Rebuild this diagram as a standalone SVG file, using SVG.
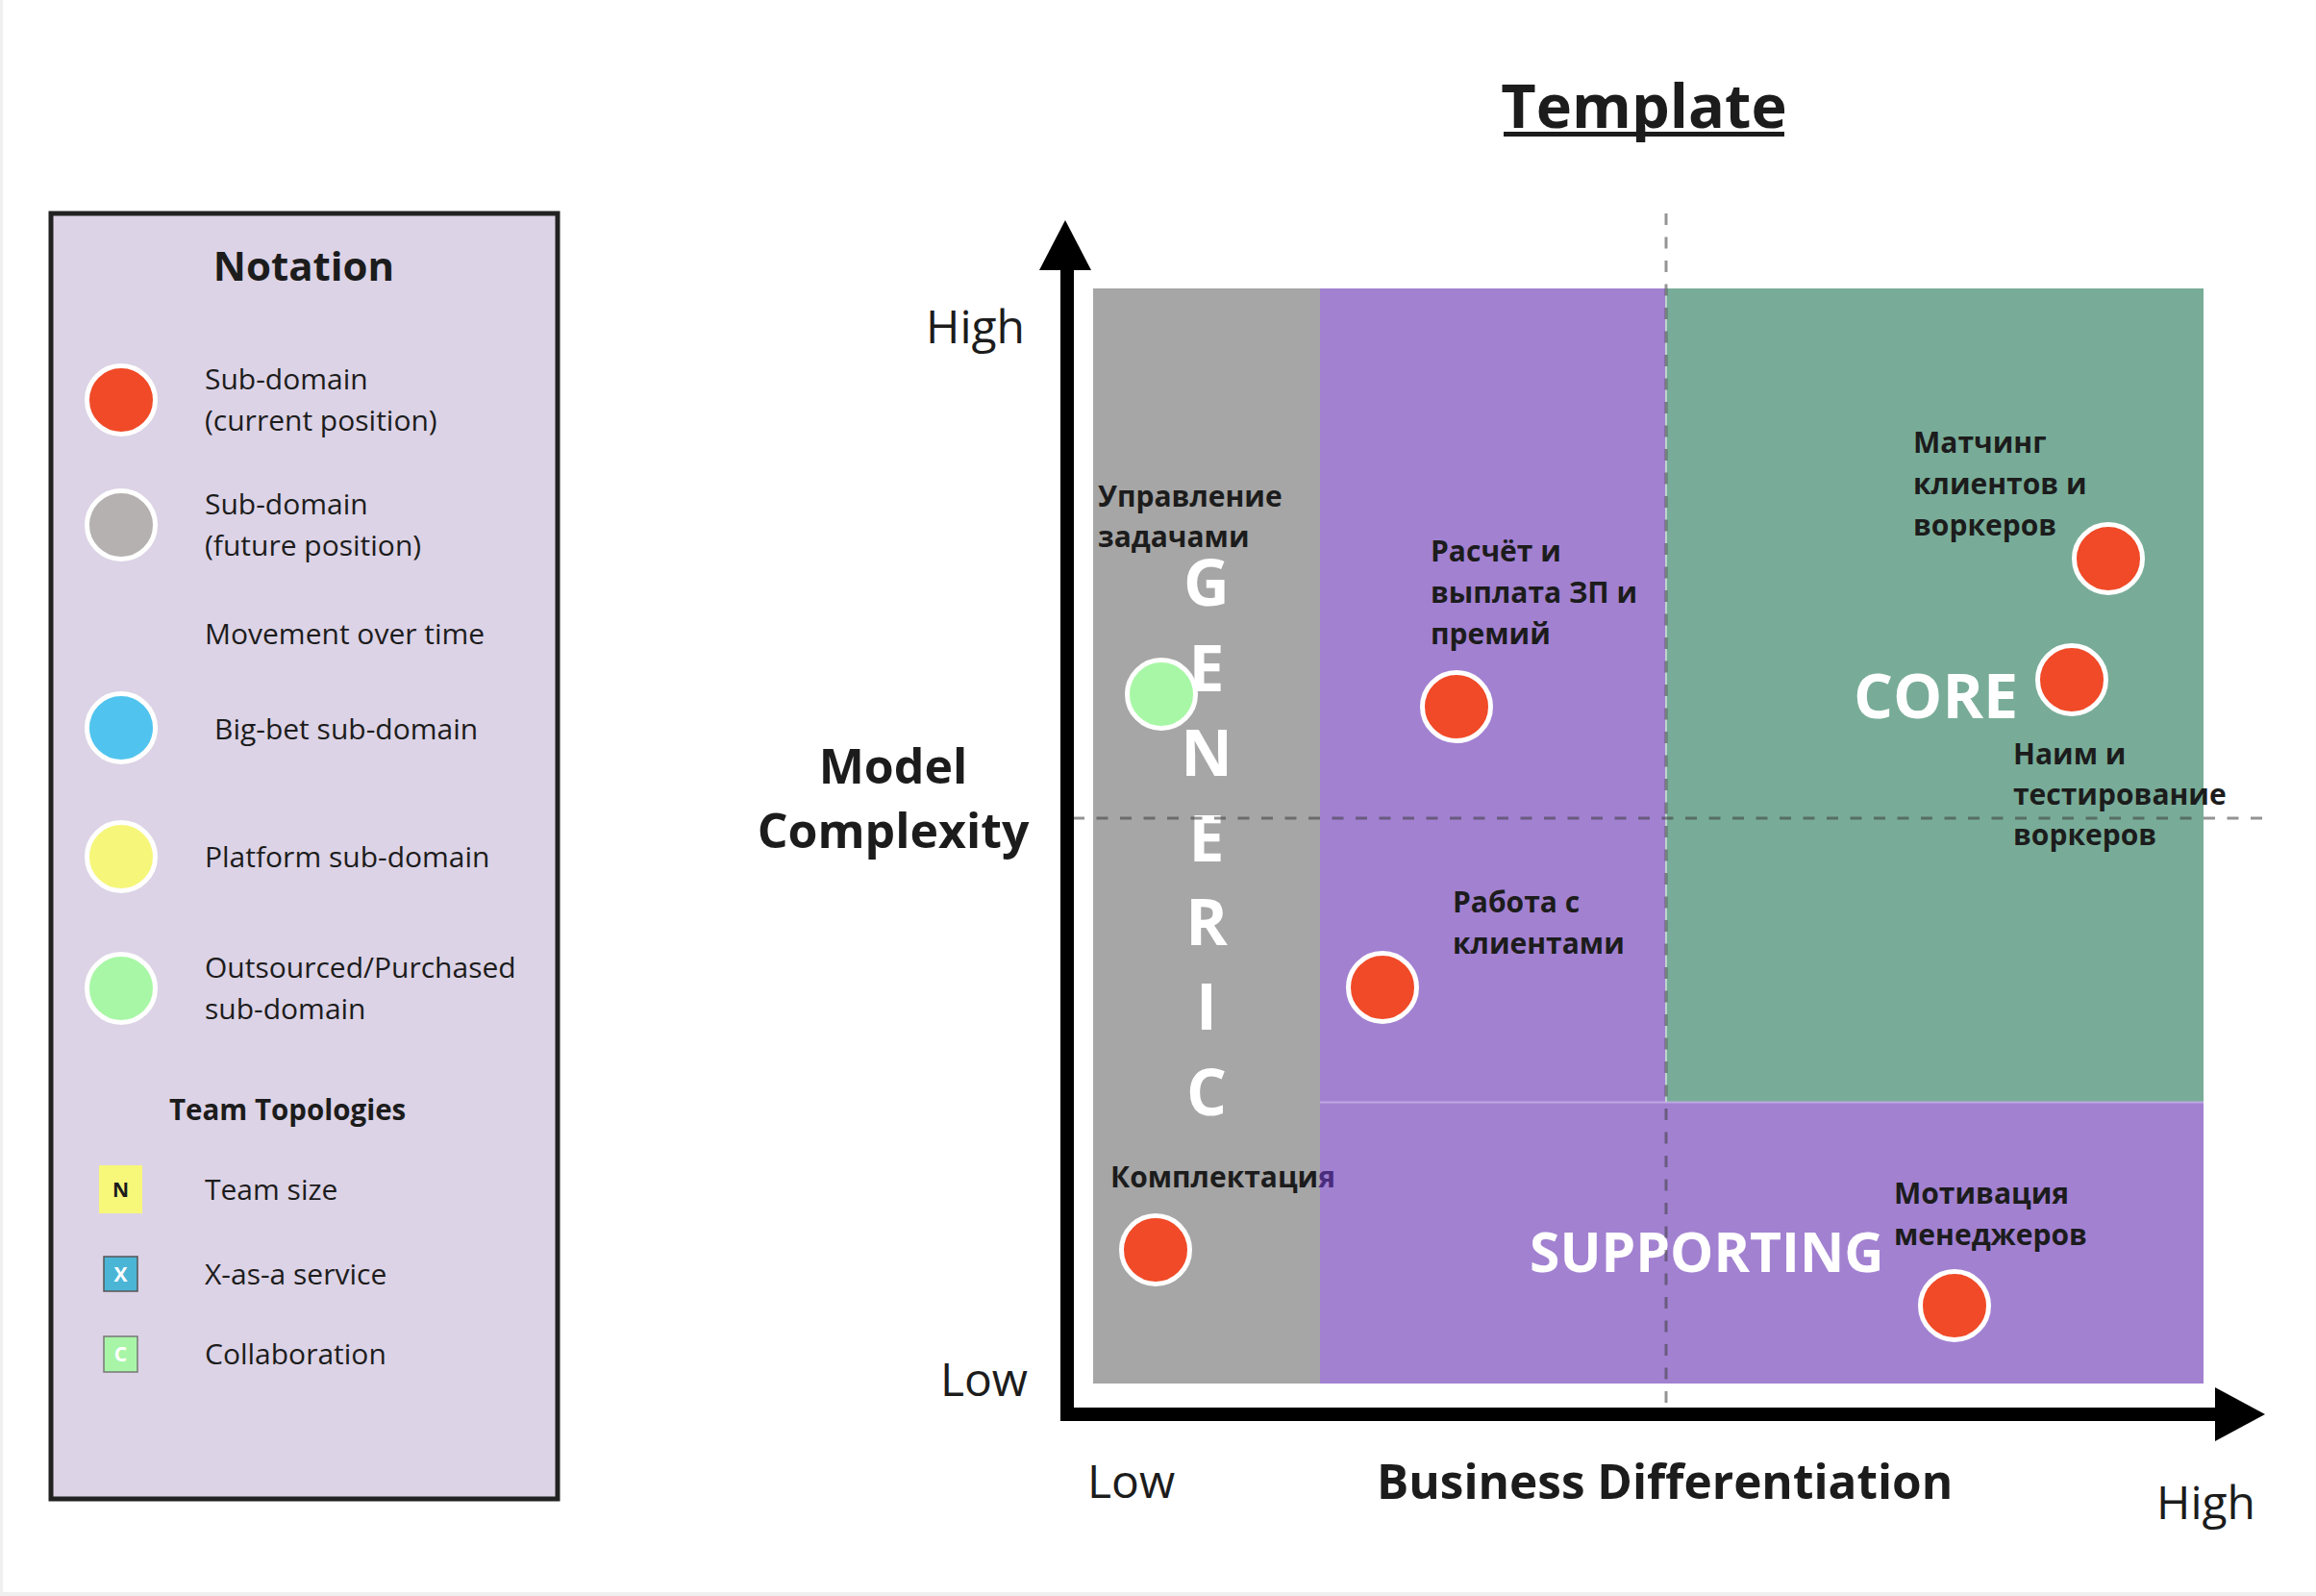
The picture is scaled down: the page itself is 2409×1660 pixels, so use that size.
<svg xmlns="http://www.w3.org/2000/svg" width="2409" height="1660" viewBox="0 0 2409 1660">
  <style>
    text { font-family: "Open Sans", "Noto Sans", "DejaVu Sans", sans-serif; fill: #1c1c1c; }
    .lg { font-size: 30px; }
    .lbl { font-size: 30px; font-weight: 700; }
    .ax { font-size: 48px; }
    .axb { font-size: 49.5px; font-weight: 700; }
    .quad { font-weight: 700; fill: #ffffff; }
    .dot { stroke: #ffffff; stroke-width: 5; }
    .red { fill: #F04A28; }
    .dash { fill: none; stroke: #3c3c3c; stroke-opacity: 0.55; stroke-width: 3; stroke-dasharray: 12 12.5; }
    .chip { font-size: 21px; font-weight: 700; text-anchor: middle; }
  </style>

  <!-- page -->
  <rect width="2409" height="1660" fill="#ffffff"/>
  <rect x="0" y="0" width="3" height="1660" fill="#EFEFEF"/>
  <rect x="0" y="1656" width="2409" height="4" fill="#EFEFEF"/>

  <!-- legend panel -->
  <g id="legend">
    <rect x="53" y="222" width="527" height="1337" fill="#DCD3E6" stroke="#222222" stroke-width="5"/>
    <text x="316" y="292" text-anchor="middle" font-size="42" font-weight="700">Notation</text>

    <circle cx="126" cy="416" r="35.5" class="dot red"/>
    <text class="lg" x="213" y="405">Sub-domain</text>
    <text class="lg" x="213" y="448">(current position)</text>

    <circle cx="126" cy="546" r="35.5" class="dot" fill="#B5B1B0"/>
    <text class="lg" x="213" y="535">Sub-domain</text>
    <text class="lg" x="213" y="578">(future position)</text>

    <text class="lg" x="213" y="670">Movement over time</text>

    <circle cx="126" cy="757" r="35.5" class="dot" fill="#50C4EE"/>
    <text class="lg" x="223" y="769">Big-bet sub-domain</text>

    <circle cx="126" cy="891" r="35.5" class="dot" fill="#F6F67A"/>
    <text class="lg" x="213" y="902">Platform sub-domain</text>

    <circle cx="126" cy="1028" r="35.5" class="dot" fill="#A8F7A6"/>
    <text class="lg" x="213" y="1017">Outsourced/Purchased</text>
    <text class="lg" x="213" y="1060">sub-domain</text>

    <text x="176" y="1165" font-size="29.5" font-weight="700">Team Topologies</text>

    <rect x="103" y="1212" width="45" height="50" fill="#F7F77A"/>
    <text class="chip" x="125.5" y="1245">N</text>
    <text class="lg" x="213" y="1248">Team size</text>

    <rect x="108" y="1307" width="35" height="36" fill="#4BB5D6" stroke="#555555" stroke-width="1.5"/>
    <text class="chip" x="125.5" y="1333" style="fill:#ffffff">X</text>
    <text class="lg" x="213" y="1336">X-as-a service</text>

    <rect x="108" y="1390" width="35" height="37" fill="#A8F5A8" stroke="#777777" stroke-width="1.5"/>
    <text class="chip" x="125.5" y="1416" style="fill:#ffffff">C</text>
    <text class="lg" x="213" y="1419">Collaboration</text>
  </g>

  <!-- heading -->
  <g id="title">
    <text x="1710" y="133" text-anchor="middle" font-size="63" font-weight="700">Template</text>
    <rect x="1564" y="137" width="292" height="5" fill="#1c1c1c"/>
  </g>

  <!-- quadrants -->
  <g id="quadrants">
    <rect id="generic-area" x="1137" y="300" width="236" height="1139" fill="#A6A6A6"/>
    <rect id="supporting-area" x="1373" y="300" width="919" height="1139" fill="#A281D1"/>
    <rect id="core-area" x="1732" y="300" width="560" height="846" fill="#78AC98"/>
    <line x1="1373" y1="1146.5" x2="2292" y2="1146.5" stroke="#BDA9E2" stroke-width="2"/>
    <line x1="1733" y1="300" x2="1733" y2="1146" stroke="#D6E2DE" stroke-width="1.5"/>

    <g font-size="66" text-anchor="middle">
      <text class="quad" x="1255" y="630">G</text>
      <text class="quad" x="1255" y="719">E</text>
      <text class="quad" x="1255" y="807">N</text>
      <text class="quad" x="1255" y="896">E</text>
      <text class="quad" x="1255" y="983">R</text>
      <text class="quad" x="1255" y="1071">I</text>
      <text class="quad" x="1255" y="1160">C</text>
    </g>
    <text class="quad" x="1928" y="747" font-size="64.5">CORE</text>
    <text class="quad" x="1591" y="1323" font-size="57">SUPPORTING</text>
  </g>

  <!-- axes and guide lines -->
  <g id="connectors">
    <line class="dash" x1="1733" y1="222" x2="1733" y2="1464"/>
    <line class="dash" x1="1116" y1="851" x2="2355" y2="851"/>

    <line x1="1110" y1="1478" x2="1110" y2="270" stroke="#000000" stroke-width="14"/>
    <polygon points="1108,229 1135,281 1081,281" fill="#000000"/>
    <line x1="1103" y1="1471" x2="2310" y2="1471" stroke="#000000" stroke-width="14"/>
    <polygon points="2356,1471 2304,1443 2304,1499" fill="#000000"/>

    <text class="ax" x="1066" y="357" text-anchor="end">High</text>
    <text class="ax" x="1069" y="1452" text-anchor="end">Low</text>
    <text x="929" y="815" text-anchor="middle" font-size="50" font-weight="700">Model</text>
    <text x="929" y="882" text-anchor="middle" font-size="50" font-weight="700">Complexity</text>

    <text class="ax" x="1131" y="1558">Low</text>
    <text class="axb" x="1432" y="1559">Business Differentiation</text>
    <text class="ax" x="2243" y="1580">High</text>
  </g>

  <!-- sub-domains -->
  <g id="task-management">
    <circle cx="1208" cy="722" r="35.5" class="dot" fill="#A8F7A6"/>
    <text class="lbl" x="1142" y="527">Управление</text>
    <text class="lbl" x="1142" y="569">задачами</text>
  </g>

  <g id="payroll">
    <circle cx="1515" cy="735" r="35.5" class="dot red"/>
    <text class="lbl" x="1488" y="584">Расчёт и</text>
    <text class="lbl" x="1488" y="627">выплата ЗП и</text>
    <text class="lbl" x="1488" y="670">премий</text>
  </g>

  <g id="clients">
    <circle cx="1438" cy="1027" r="35.5" class="dot red"/>
    <text class="lbl" x="1511" y="949">Работа с</text>
    <text class="lbl" x="1511" y="992">клиентами</text>
  </g>

  <g id="matching">
    <circle cx="2193" cy="581" r="35.5" class="dot red"/>
    <text class="lbl" x="1990" y="471">Матчинг</text>
    <text class="lbl" x="1990" y="514">клиентов и</text>
    <text class="lbl" x="1990" y="557">воркеров</text>
  </g>

  <g id="hiring">
    <circle cx="2155" cy="707" r="35.5" class="dot red"/>
    <text class="lbl" x="2094" y="795">Наим и</text>
    <text class="lbl" x="2094" y="837">тестирование</text>
    <text class="lbl" x="2094" y="879">воркеров</text>
  </g>

  <g id="staffing">
    <circle cx="1202" cy="1300" r="35.5" class="dot red"/>
    <text class="lbl" x="1155" y="1235">Комплектаци<tspan style="fill:#4A2C7E">я</tspan></text>
  </g>

  <g id="motivation">
    <circle cx="2033" cy="1358" r="35.5" class="dot red"/>
    <text class="lbl" x="1970" y="1252">Мотивация</text>
    <text class="lbl" x="1970" y="1295">менеджеров</text>
  </g>
</svg>
